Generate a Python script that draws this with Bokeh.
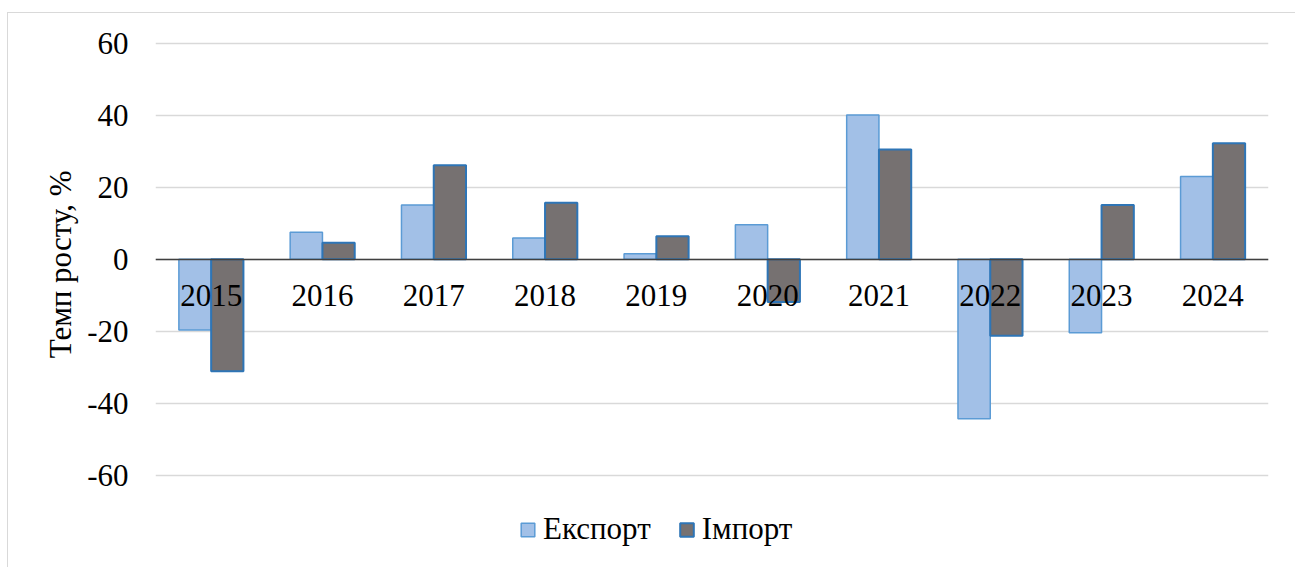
from bokeh.plotting import figure
from bokeh.models import (FactorRange, Range1d, FixedTicker, Legend, LegendItem,
                          ColumnDataSource, Title)
from bokeh.transform import dodge
from bokeh.embed import file_html
from bokeh.resources import INLINE

years = ["2015", "2016", "2017", "2018", "2019", "2020", "2021", "2022", "2023", "2024"]
export_vals = [-19.7, 7.5, 15.1, 5.9, 1.5, 9.6, 40.1, -44.3, -20.4, 23.0]
import_vals = [-31.1, 4.6, 26.1, 15.7, 6.4, -11.9, 30.5, -21.3, 15.1, 32.2]
y_ticks = [-60, -40, -20, 0, 20, 40, 60]
y_tick_labels = ["-60", "-40", "-20", "0", "20", "40", "60"]
series_names = ["Експорт", "Імпорт"]
y_title = "Темп росту, %"

FONT = "Liberation Serif"
FS = "31px"

src = ColumnDataSource(dict(year=years, exp=export_vals, imp=import_vals))

p = figure(width=1288, height=555, output_backend="svg", toolbar_location=None,
           x_range=FactorRange(*years), y_range=Range1d(-84, 60.5),
           min_border_left=147, min_border_right=28, min_border_top=28,
           min_border_bottom=7, margin=(12, 0, 0, 7),
           styles={"border-left": "1px solid #d9d9d9", "border-top": "1px solid #d9d9d9"})
p.background_fill_color = "white"
p.border_fill_color = "white"
p.outline_line_color = None

r_exp = p.vbar(x=dodge("year", -0.145, range=p.x_range), top="exp", width=0.29,
               source=src, fill_color="#a2c0e7", line_color="#5b9bd5", line_width=1.5)
r_imp = p.vbar(x=dodge("year", 0.145, range=p.x_range), top="imp", width=0.29,
               source=src, fill_color="#767171", line_color="#2e75b6", line_width=2)

# axes
p.yaxis.ticker = FixedTicker(ticks=y_ticks)
p.yaxis.major_label_overrides = {t: s for t, s in zip(y_ticks, y_tick_labels)}
p.yaxis.axis_line_color = None
p.yaxis.major_tick_line_color = None
p.yaxis.minor_tick_line_color = None
p.yaxis.major_tick_out = 0
p.yaxis.major_label_standoff = 27
p.yaxis.major_label_text_font = FONT
p.yaxis.major_label_text_font_size = FS
p.yaxis.major_label_text_color = "black"

# axis title centred on the -60..60 band (like the reference), not on the whole frame
p.add_layout(Title(text=y_title, align="right", offset=129, standoff=13,
                   text_font=FONT, text_font_size=FS, text_font_style="normal",
                   text_color="black"), "left")

p.xaxis.fixed_location = 0
p.xaxis.axis_line_color = "#404040"
p.xaxis.axis_line_width = 1.5
p.xaxis.major_tick_line_color = None
p.xaxis.minor_tick_line_color = None
p.xaxis.major_tick_out = 0
p.xaxis.major_label_standoff = 26
p.xaxis.major_label_text_font = FONT
p.xaxis.major_label_text_font_size = FS
p.xaxis.major_label_text_color = "black"

p.xgrid.grid_line_color = None
p.ygrid.grid_line_color = "#d9d9d9"
p.ygrid.grid_line_width = 1.5

legend = Legend(items=[LegendItem(label=series_names[0], renderers=[r_exp]),
                       LegendItem(label=series_names[1], renderers=[r_imp])],
                location=(364, 14), orientation="horizontal",
                label_text_font=FONT, label_text_font_size=FS, label_text_color="black",
                glyph_width=17, glyph_height=17, label_standoff=7, spacing=27,
                padding=0, margin=0, border_line_color=None, background_fill_alpha=0)
p.add_layout(legend, "center")

open("out.html", "w").write(file_html(p, INLINE))
